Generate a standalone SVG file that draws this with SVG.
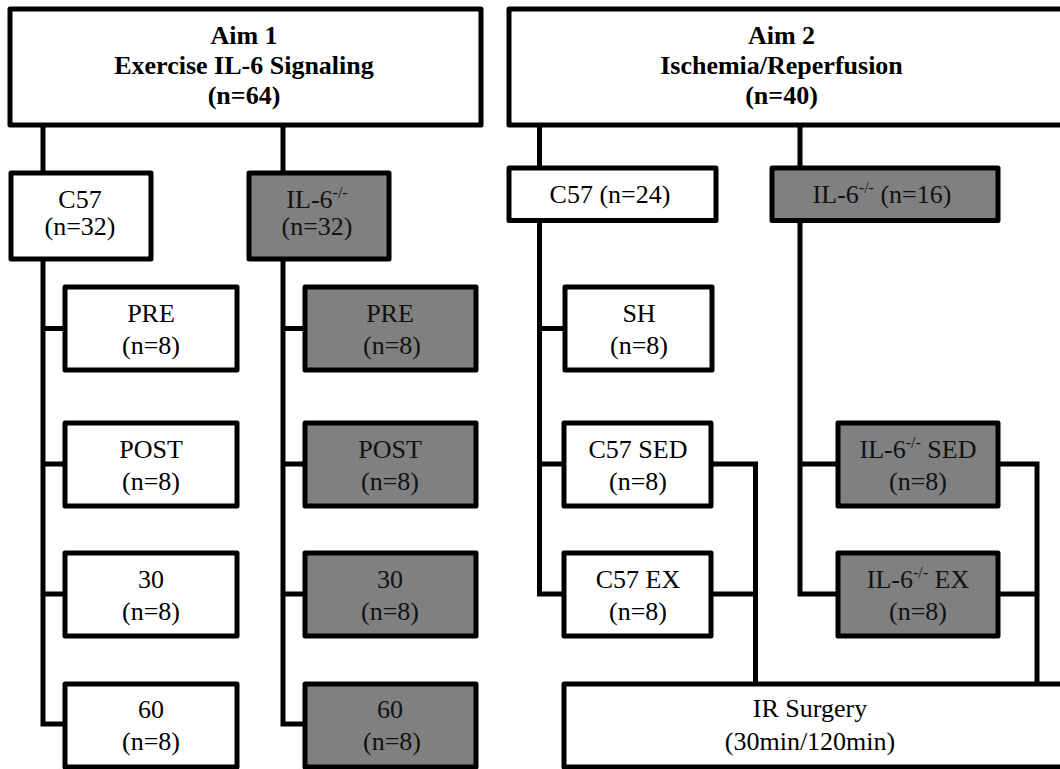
<svg xmlns="http://www.w3.org/2000/svg" width="1060" height="769" viewBox="0 0 1060 769">
<style>
.box{fill:#fff;stroke:#000;stroke-width:5;stroke-linejoin:round}
.gray{fill:#808080}
.conn{fill:none;stroke:#000;stroke-width:5}
.t{font-family:"Liberation Serif","Times New Roman",serif;font-size:26px;text-anchor:middle;fill:#000}
.g{fill:#111}
.b{font-weight:bold}
.sup{font-size:16px}
</style>
<rect width="1060" height="769" fill="#fff"/>
<g id="connectors">
<path class="conn" d="M43 125 V173 M43 259 V724 H65 M43 328.5 H65 M43 464 H65 M43 594 H65"/>
<path class="conn" d="M283 125 V173 M283 259 V724 H305 M283 328.5 H305 M283 464 H305 M283 594 H305"/>
<path class="conn" d="M539.5 125 V168 M539.5 220.5 V594 H564 M539.5 328.5 H565 M539.5 464 H564"/>
<path class="conn" d="M800 125 V168 M800 220.5 V594 H838 M800 464 H838"/>
<path class="conn" d="M711 464 H755.5 V684 M711 594 H755.5"/>
<path class="conn" d="M998 464 H1037 V684 M998 594 H1037"/>
</g>
<g id="aim1">
<rect class="box" x="10" y="9" width="471" height="116"/>
<text class="t b" x="244" y="43.5">Aim 1</text>
<text class="t b" x="244" y="74">Exercise IL-6 Signaling</text>
<text class="t b" x="244" y="104">(n=64)</text>
</g>
<g id="aim2">
<rect class="box" x="509" y="9" width="570" height="116"/>
<text class="t b" x="781.5" y="43.5">Aim 2</text>
<text class="t b" x="781.5" y="74">Ischemia/Reperfusion</text>
<text class="t b" x="781.5" y="104">(n=40)</text>
</g>
<g id="c57-aim1">
<rect class="box" x="11" y="173" width="140" height="86"/>
<text class="t" x="80" y="208">C57</text>
<text class="t" x="80" y="235">(n=32)</text>
</g>
<g id="il6-aim1">
<rect class="box gray" x="249" y="173" width="140" height="86"/>
<text class="t g" x="317"><tspan y="208">IL-6</tspan><tspan class="sup" dy="-10">-/-</tspan></text>
<text class="t g" x="317" y="235">(n=32)</text>
</g>
<g id="c57-pre">
<rect class="box" x="65" y="287" width="172" height="83"/>
<text class="t" x="151" y="322">PRE</text>
<text class="t" x="151" y="354">(n=8)</text>
</g>
<g id="c57-post">
<rect class="box" x="65" y="423" width="172" height="83"/>
<text class="t" x="151" y="458">POST</text>
<text class="t" x="151" y="490">(n=8)</text>
</g>
<g id="c57-30">
<rect class="box" x="65" y="553" width="172" height="83"/>
<text class="t" x="151" y="588">30</text>
<text class="t" x="151" y="620">(n=8)</text>
</g>
<g id="c57-60">
<rect class="box" x="65" y="684" width="172" height="83"/>
<text class="t" x="151" y="718">60</text>
<text class="t" x="151" y="750">(n=8)</text>
</g>
<g id="il6-pre">
<rect class="box gray" x="305" y="287" width="171" height="83"/>
<text class="t g" x="390" y="322">PRE</text>
<text class="t g" x="392" y="354">(n=8)</text>
</g>
<g id="il6-post">
<rect class="box gray" x="305" y="423" width="171" height="83"/>
<text class="t g" x="390" y="458">POST</text>
<text class="t g" x="390" y="490">(n=8)</text>
</g>
<g id="il6-30">
<rect class="box gray" x="305" y="553" width="171" height="83"/>
<text class="t g" x="390" y="588">30</text>
<text class="t g" x="390" y="620">(n=8)</text>
</g>
<g id="il6-60">
<rect class="box gray" x="305" y="684" width="171" height="83"/>
<text class="t g" x="390" y="718">60</text>
<text class="t g" x="392" y="750">(n=8)</text>
</g>
<g id="c57-aim2">
<rect class="box" x="509" y="168" width="207" height="52.5"/>
<text class="t" x="610" y="203">C57 (n=24)</text>
</g>
<g id="il6-aim2">
<rect class="box gray" x="772" y="168" width="226" height="52.5"/>
<text class="t g" x="882"><tspan y="203">IL-6</tspan><tspan class="sup" dy="-10">-/-</tspan><tspan dy="10"> (n=16)</tspan></text>
</g>
<g id="sh">
<rect class="box" x="565" y="287" width="147" height="83"/>
<text class="t" x="639" y="322">SH</text>
<text class="t" x="639" y="354">(n=8)</text>
</g>
<g id="c57-sed">
<rect class="box" x="564" y="423" width="147" height="83"/>
<text class="t" x="638" y="458">C57 SED</text>
<text class="t" x="638" y="490">(n=8)</text>
</g>
<g id="c57-ex">
<rect class="box" x="564" y="553" width="147" height="83"/>
<text class="t" x="638" y="588">C57 EX</text>
<text class="t" x="638" y="620">(n=8)</text>
</g>
<g id="il6-sed">
<rect class="box gray" x="838" y="423" width="160" height="83"/>
<text class="t g" x="918"><tspan y="458">IL-6</tspan><tspan class="sup" dy="-10">-/-</tspan><tspan dy="10"> SED</tspan></text>
<text class="t g" x="918" y="490">(n=8)</text>
</g>
<g id="il6-ex">
<rect class="box gray" x="838" y="553" width="160" height="83"/>
<text class="t g" x="918"><tspan y="588">IL-6</tspan><tspan class="sup" dy="-10">-/-</tspan><tspan dy="10"> EX</tspan></text>
<text class="t g" x="918" y="620">(n=8)</text>
</g>
<g id="ir-surgery">
<rect class="box" x="564" y="684" width="520" height="83"/>
<text class="t" x="810" y="717">IR Surgery</text>
<text class="t" x="810" y="750">(30min/120min)</text>
</g>
</svg>
